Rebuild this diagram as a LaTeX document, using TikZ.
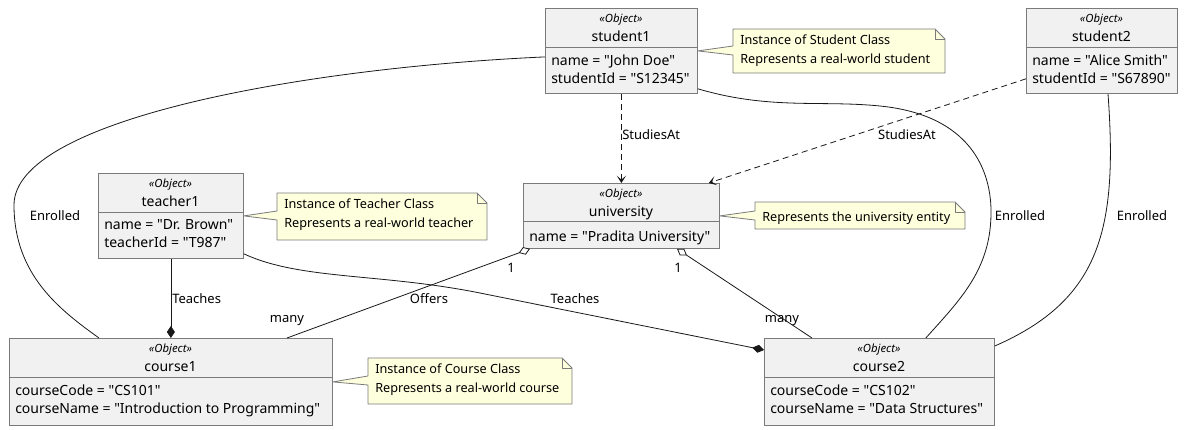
\documentclass[tikz,border=0pt]{standalone}
\usepackage{fontspec}
\setmainfont{Noto Sans}[Ligatures=TeXOff]
\usetikzlibrary{arrows.meta,calc}

\definecolor{objfill}{HTML}{F1F1F1}
\definecolor{notefill}{HTML}{FEFFDD}
\definecolor{edgegray}{HTML}{181818}
\definecolor{framegray}{HTML}{7A7A7A}

\tikzset{
  objbox/.style={draw=framegray, fill=objfill, line width=.6pt, anchor=north west, inner sep=0pt},
  divline/.style={draw=framegray, line width=.6pt},
  stereo/.style={anchor=base, inner sep=0pt, font=\fontsize{8.5}{10}\selectfont\itshape},
  objname/.style={anchor=base, inner sep=0pt, font=\fontsize{10.5}{13}\selectfont},
  attrs/.style={anchor=north west, align=left, inner xsep=4.5pt, inner ysep=5.55pt,
    font=\fontsize{10.5}{13.5}\selectfont, execute at begin node=\strut},
  notebox/.style={draw=framegray, fill=notefill, line width=.6pt, line join=round},
  notetext/.style={anchor=north west, align=left, inner xsep=5.25pt, inner ysep=4.4pt,
    font=\fontsize{9.5}{14}\selectfont, execute at begin node=\strut},
  lbl/.style={inner sep=0pt, font=\fontsize{9.75}{12}\selectfont},
  link/.style={draw=edgegray, line width=.6pt},
  dep/.style={link, dash pattern=on 4.5pt off 3pt, -{Stealth[length=5.5pt,width=7pt,inset=3pt]}},
  agg/.style={link, {Diamond[open,fill=white,length=9pt,width=6pt]}-},
  comp/.style={link, -{Diamond[length=9pt,width=6pt]}},
}

\begin{document}
\begin{tikzpicture}[x=.75pt,y=-.75pt]
\useasboundingbox (0,0) rectangle (1190,429);

% objects
\node[objbox, minimum width=114pt, minimum height=63.75pt] (student1) at (545,8) {};
\draw[divline] (545,47) -- (697,47);
\node[stereo] (student1-st) at (621,22) {«Object»};
\node[objname] (student1-nm) at (621,41) {student1};
\node[attrs] (student1-at) at (545,47) {name = "John Doe"\\studentId = "S12345"};

\node[objbox, minimum width=113.25pt, minimum height=63.75pt] (student2) at (1026,8) {};
\draw[divline] (1026,47) -- (1177,47);
\node[stereo] (student2-st) at (1101.5,22) {«Object»};
\node[objname] (student2-nm) at (1101.5,41) {student2};
\node[attrs] (student2-at) at (1026,47) {name = "Alice Smith"\\studentId = "S67890"};

\node[objbox, minimum width=108.75pt, minimum height=63.75pt] (teacher1) at (98,173) {};
\draw[divline] (98,212) -- (243,212);
\node[stereo] (teacher1-st) at (170.5,187) {«Object»};
\node[objname] (teacher1-nm) at (170.5,206) {teacher1};
\node[attrs] (teacher1-at) at (98,212) {name = "Dr. Brown"\\teacherId = "T987"};

\node[objbox, minimum width=147pt, minimum height=48.75pt] (university) at (523,183) {};
\draw[divline] (523,221) -- (719,221);
\node[stereo] (university-st) at (621,197) {«Object»};
\node[objname] (university-nm) at (621,216) {university};
\node[attrs] (university-at) at (523,221) {name = "Pradita University"};

\node[objbox, minimum width=242.25pt, minimum height=65.25pt] (course1) at (9,338) {};
\draw[divline] (9,377) -- (332,377);
\node[stereo] (course1-st) at (170.5,352) {«Object»};
\node[objname] (course1-nm) at (170.5,371) {course1};
\node[attrs] (course1-at) at (9,377) {courseCode = "CS101"\\courseName = "Introduction to Programming"};

\node[objbox, minimum width=172.5pt, minimum height=65.25pt] (course2) at (764,338) {};
\draw[divline] (764,377) -- (994,377);
\node[stereo] (course2-st) at (879,352) {«Object»};
\node[objname] (course2-nm) at (879,371) {course2};
\node[attrs] (course2-at) at (764,377) {courseCode = "CS102"\\courseName = "Data Structures"};

% notes
\draw[notebox] (733,29) -- (935,29) -- (945,39) -- (945,73) -- (733,73) -- (733,55) -- (student1.east) -- (733,46) -- cycle;
\draw[notebox, fill=none] (935,29) -- (935,39) -- (945,39);
\node[notetext] (note-student) at (733,29) {Instance of Student Class\\Represents a real-world student};

\draw[notebox] (277,193) -- (477,193) -- (487,203) -- (487,240) -- (277,240) -- (277,220) -- (teacher1.east) -- (277,211) -- cycle;
\draw[notebox, fill=none] (477,193) -- (477,203) -- (487,203);
\node[notetext] (note-teacher) at (277,193) {Instance of Teacher Class\\Represents a real-world teacher};

\draw[notebox] (755,202) -- (955,202) -- (965,212) -- (965,229) -- (755,229) -- (755,220) -- (university.east) -- (755,211) -- cycle;
\draw[notebox, fill=none] (955,202) -- (955,212) -- (965,212);
\node[notetext] (note-univ) at (755,202) {Represents the university entity};

\draw[notebox] (368,358) -- (562,358) -- (572,368) -- (572,404) -- (368,404) -- (368,385) -- (course1.east) -- (368,376) -- cycle;
\draw[notebox, fill=none] (562,358) -- (562,368) -- (572,368);
\node[notetext] (note-course) at (368,358) {Instance of Course Class\\Represents a real-world course};

% links
\draw[link] ($(student1.west)+(0,6)$) .. controls (300,68) and (14,120) .. (14,205)
  .. controls (14,275) and (60,310) .. ($(course1.north west)+(90,0)$);
\node[lbl] (enrolled1) at (55,216) {Enrolled};

\draw[link] ($(student1.south east)+(0,-5)$) .. controls (770,110) and (820,100) .. (880,106)
  .. controls (970,115) and (992,170) .. (991,215)
  .. controls (990,270) and (960,300) .. ($(course2.north east)+(-69,0)$);
\node[lbl] (enrolled2) at (1020,216) {Enrolled};

\draw[link] ($(student2.south west)+(82,0)$) .. controls (1118,230) and (1100,300) .. ($(course2.north east)+(0,8)$);
\node[lbl] (enrolled3) at (1142,216) {Enrolled};

\draw[dep] (student1.south) -- (university.north);
\node[lbl, anchor=west] (studies1) at (622,135) {StudiesAt};

\draw[dep] ($(student2.south west)+(0,-15)$) -- ($(university.north east)+(-11,0)$);
\node[lbl] (studies2) at (907,135) {StudiesAt};

\draw[agg] ($(university.south west)+(7,0)$) -- ($(course1.north west)+(278,0)$);
\node[lbl] (one1) at (511,268) {1};
\node[lbl] (many1) at (287,321) {many};
\node[lbl] (offers) at (429,299) {Offers};

\draw[agg] ($(university.south west)+(154,0)$) -- ($(course2.north west)+(48,0)$);
\node[lbl] (one2) at (678,268) {1};
\node[lbl] (many2) at (782,321) {many};

\draw[comp] (teacher1.south) -- (teacher1.south |- course1.north);
\node[lbl, anchor=west] (teaches1) at (172,299) {Teaches};

\draw[comp] ($(teacher1.south east)+(0,-5)$) .. controls (300,280) and (380,273) .. (480,293)
  -- ($(course2.north west)+(0,12)$);
\node[lbl] (teaches2) at (575,299) {Teaches};
\end{tikzpicture}
\end{document}
